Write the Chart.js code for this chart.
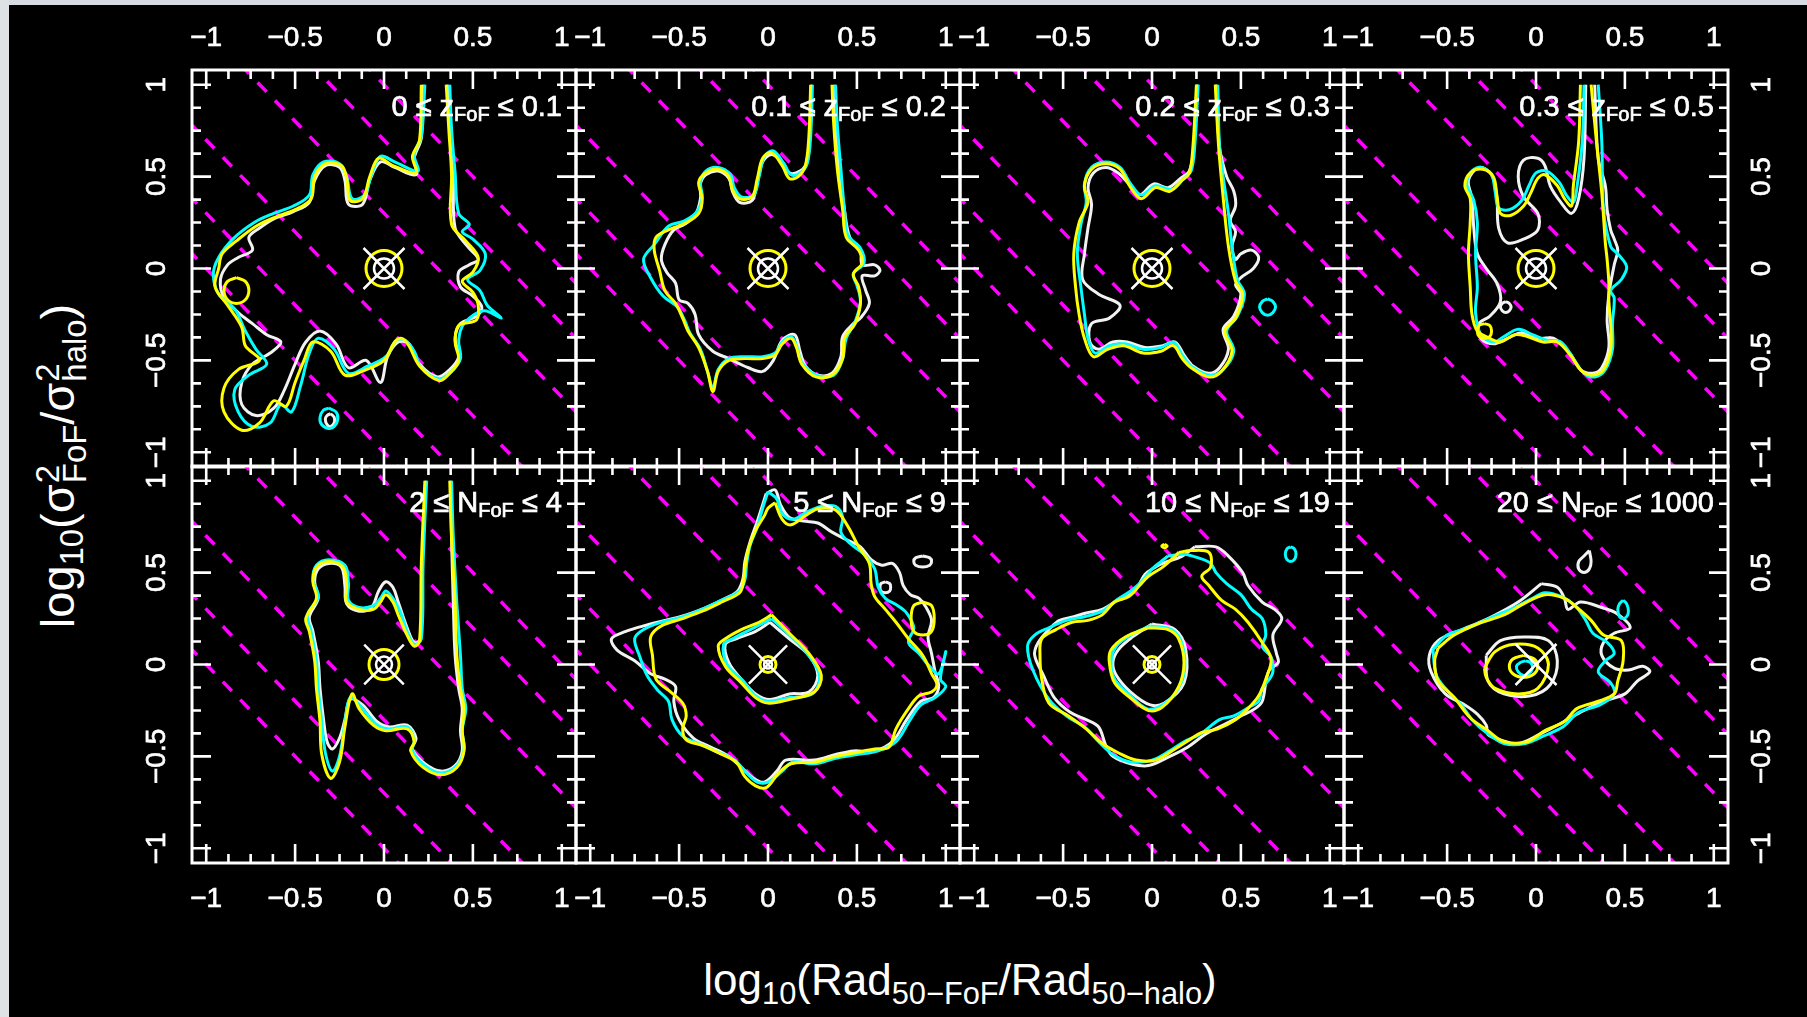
<!DOCTYPE html>
<html>
<head>
<meta charset="utf-8">
<script src="https://cdn.jsdelivr.net/npm/chart.js@4.4.1/dist/chart.umd.min.js"></script>
<style>
html, body { margin: 0; padding: 0; background: #000; }
body { width: 1807px; height: 1017px; position: relative; overflow: hidden; color: #fff;
       font-family: "Liberation Sans", Arial, Helvetica, sans-serif; }
.strip-top { position: absolute; left: 0; top: 0; width: 1807px; height: 5px; background: #d6dce1; }
.strip-left { position: absolute; left: 0; top: 0; width: 9px; height: 1017px; background: #dfe2e5; }
.panel { position: absolute; }
.title { position: absolute; white-space: nowrap; font-size: 44px; line-height: 50px; }
#xtitle { left: 460px; width: 1000px; top: 955px; text-align: center; }
#ytitle { left: 60px; top: 466px; font-size: 47px; transform: translate(-50%, -50%) rotate(-90deg); }
.title sub { font-size: 0.7em; vertical-align: -0.3em; line-height: 0; }
.ss { display: inline-flex; flex-direction: column; font-size: 0.7em; line-height: 0.8;
      vertical-align: 0.45em; text-align: left; margin-left: 1px; }
</style>
</head>
<body>
<div class="strip-top"></div>
<div class="strip-left"></div>
<div class="title" id="xtitle">log<sub>10</sub>(Rad<sub>50−FoF</sub>/Rad<sub>50−halo</sub>)</div>
<div class="title" id="ytitle">log<sub>10</sub>(σ<span class="ss"><span>2</span><span>FoF</span></span>/σ<span class="ss"><span>2</span><span>halo</span></span>)</div>
<script>
// axis setup (R style: range extended 4%)
const AX_MIN = -1.08, AX_MAX = 1.08;
const tickMarks = [-1, -0.875, -0.75, -0.625, -0.5, -0.375, -0.25, -0.125, 0,
                   0.125, 0.25, 0.375, 0.5, 0.625, 0.75, 0.875, 1];
const tickLabelValues = [-1, -0.5, 0, 0.5, 1];
const tickLabelText = ['\u22121', '\u22120.5', '0', '0.5', '1'];

// constant mass ratio lines: log10(sigma^2) + log10(R) = c
const massLines = [-1, -0.699, -0.301, 0.301, 0.699, 1];
const centre = [[0, 0]];

// panel labels
const labelLow = ['0', '0.1', '0.2', '0.3', '2', '5', '10', '20'];
const labelVar = ['z', 'z', 'z', 'z', 'N', 'N', 'N', 'N'];
const labelHigh = ['0.1', '0.2', '0.3', '0.5', '4', '9', '19', '1000'];
const markerOuter = [18, 18, 18, 18, 15, 8, 8, 0];
const markerInner = [10, 10, 10, 10, 8, 4, 4, 0];
const markerCross = [29, 29, 29, 29, 28, 27, 27, 29];

// ---- panel 1: 0 <= z <= 0.1
const p1Y = [[0.21,1.0],[0.20,0.70],[0.16,0.61],[0.18,0.52],[0.05,0.56],[-0.03,0.60],[-0.08,0.50],[-0.12,0.38],[-0.19,0.37],[-0.21,0.49],[-0.24,0.56],[-0.33,0.57],[-0.39,0.50],[-0.41,0.38],[-0.50,0.32],[-0.61,0.28],[-0.72,0.23],[-0.83,0.15],[-0.91,0.08],[-0.93,0.0],[-0.95,-0.10],[-0.88,-0.20],[-0.80,-0.32],[-0.78,-0.42],[-0.70,-0.50],[-0.82,-0.55],[-0.90,-0.65],[-0.90,-0.78],[-0.80,-0.88],[-0.70,-0.84],[-0.62,-0.72],[-0.55,-0.75],[-0.50,-0.62],[-0.45,-0.50],[-0.40,-0.40],[-0.30,-0.45],[-0.22,-0.58],[-0.10,-0.55],[0.0,-0.50],[0.06,-0.40],[0.10,-0.38],[0.14,-0.42],[0.20,-0.53],[0.31,-0.61],[0.37,-0.57],[0.42,-0.50],[0.40,-0.40],[0.42,-0.31],[0.52,-0.28],[0.53,-0.20],[0.50,-0.13],[0.44,-0.07],[0.50,-0.02],[0.53,0.06],[0.46,0.15],[0.38,0.24],[0.38,0.51],[0.365,0.75],[0.35,1.0]];
const p1Yi = [[-0.83,-0.05],[-0.78,-0.07],[-0.76,-0.12],[-0.78,-0.17],[-0.83,-0.19],[-0.88,-0.17],[-0.90,-0.12],[-0.88,-0.07],[-0.83,-0.05]];
const p1C = [[0.23,1.0],[0.21,0.72],[0.17,0.62],[0.19,0.53],[0.06,0.58],[-0.02,0.61],[-0.07,0.51],[-0.11,0.40],[-0.18,0.38],[-0.21,0.50],[-0.25,0.57],[-0.34,0.58],[-0.40,0.51],[-0.42,0.40],[-0.51,0.34],[-0.62,0.30],[-0.73,0.25],[-0.85,0.16],[-0.93,0.06],[-0.96,-0.03],[-0.93,-0.14],[-0.84,-0.22],[-0.78,-0.34],[-0.72,-0.44],[-0.66,-0.52],[-0.76,-0.58],[-0.84,-0.66],[-0.82,-0.78],[-0.74,-0.86],[-0.64,-0.84],[-0.58,-0.74],[-0.52,-0.78],[-0.47,-0.64],[-0.42,-0.46],[-0.37,-0.38],[-0.28,-0.44],[-0.20,-0.57],[-0.09,-0.53],[0.01,-0.48],[0.07,-0.39],[0.12,-0.39],[0.17,-0.45],[0.21,-0.54],[0.31,-0.60],[0.38,-0.56],[0.43,-0.49],[0.42,-0.39],[0.45,-0.30],[0.56,-0.23],[0.66,-0.27],[0.58,-0.20],[0.54,-0.12],[0.47,-0.06],[0.54,-0.01],[0.57,0.08],[0.50,0.16],[0.44,0.20],[0.48,0.24],[0.42,0.30],[0.40,0.52],[0.38,0.76],[0.37,1.0]];
const p1Ci = [[-0.31,-0.76],[-0.27,-0.78],[-0.26,-0.82],[-0.28,-0.86],[-0.31,-0.87],[-0.35,-0.85],[-0.36,-0.81],[-0.34,-0.77],[-0.31,-0.76]];
const p1W = [[0.22,1.0],[0.21,0.71],[0.17,0.60],[0.18,0.51],[0.06,0.55],[-0.02,0.58],[-0.08,0.48],[-0.12,0.35],[-0.20,0.35],[-0.22,0.48],[-0.25,0.55],[-0.33,0.56],[-0.39,0.48],[-0.42,0.36],[-0.51,0.31],[-0.62,0.27],[-0.70,0.22],[-0.76,0.17],[-0.74,0.10],[-0.82,0.06],[-0.88,0.02],[-0.92,-0.06],[-0.90,-0.16],[-0.82,-0.24],[-0.74,-0.30],[-0.66,-0.36],[-0.58,-0.40],[-0.64,-0.46],[-0.74,-0.52],[-0.80,-0.62],[-0.80,-0.74],[-0.72,-0.80],[-0.62,-0.76],[-0.56,-0.66],[-0.50,-0.52],[-0.44,-0.40],[-0.36,-0.34],[-0.27,-0.41],[-0.20,-0.54],[-0.10,-0.50],[-0.02,-0.62],[0.02,-0.48],[0.08,-0.40],[0.14,-0.41],[0.20,-0.52],[0.30,-0.59],[0.37,-0.55],[0.42,-0.48],[0.40,-0.38],[0.43,-0.30],[0.52,-0.26],[0.55,-0.21],[0.50,-0.15],[0.43,-0.10],[0.42,-0.02],[0.48,0.02],[0.53,0.05],[0.47,0.12],[0.40,0.22],[0.39,0.50],[0.37,0.75],[0.36,1.0]];
const p1Wi = [[-0.30,-0.79],[-0.28,-0.81],[-0.28,-0.84],[-0.30,-0.86],[-0.32,-0.85],[-0.33,-0.82],[-0.32,-0.80],[-0.30,-0.79]];

// ---- panel 2: 0.1 <= z <= 0.2
const p2Y = [[0.24,1.0],[0.23,0.72],[0.21,0.56],[0.17,0.50],[0.12,0.49],[0.08,0.56],[0.02,0.63],[-0.03,0.60],[-0.06,0.49],[-0.09,0.39],[-0.16,0.38],[-0.20,0.43],[-0.22,0.50],[-0.28,0.54],[-0.35,0.52],[-0.39,0.47],[-0.37,0.38],[-0.39,0.30],[-0.46,0.25],[-0.56,0.21],[-0.63,0.17],[-0.64,0.10],[-0.61,-0.01],[-0.58,-0.12],[-0.52,-0.19],[-0.48,-0.27],[-0.45,-0.34],[-0.39,-0.43],[-0.34,-0.56],[-0.31,-0.67],[-0.28,-0.56],[-0.22,-0.50],[-0.13,-0.49],[-0.03,-0.49],[0.04,-0.47],[0.08,-0.41],[0.13,-0.38],[0.16,-0.43],[0.19,-0.52],[0.27,-0.59],[0.36,-0.58],[0.42,-0.49],[0.43,-0.38],[0.49,-0.30],[0.52,-0.19],[0.51,-0.10],[0.48,-0.03],[0.53,0.03],[0.51,0.10],[0.44,0.17],[0.42,0.32],[0.39,0.54],[0.37,0.78],[0.36,1.0]];
const p2C = [[0.25,1.0],[0.24,0.72],[0.22,0.57],[0.18,0.52],[0.13,0.51],[0.09,0.57],[0.03,0.64],[-0.02,0.61],[-0.05,0.50],[-0.08,0.40],[-0.15,0.39],[-0.19,0.44],[-0.21,0.51],[-0.28,0.55],[-0.35,0.53],[-0.38,0.47],[-0.37,0.39],[-0.40,0.31],[-0.47,0.26],[-0.56,0.23],[-0.64,0.13],[-0.70,0.05],[-0.66,-0.05],[-0.59,-0.15],[-0.51,-0.21],[-0.47,-0.28],[-0.44,-0.35],[-0.38,-0.44],[-0.34,-0.56],[-0.31,-0.65],[-0.28,-0.55],[-0.22,-0.49],[-0.13,-0.48],[-0.03,-0.48],[0.04,-0.46],[0.08,-0.40],[0.13,-0.37],[0.16,-0.42],[0.19,-0.51],[0.27,-0.58],[0.37,-0.58],[0.42,-0.49],[0.44,-0.38],[0.49,-0.29],[0.52,-0.18],[0.50,-0.09],[0.48,-0.03],[0.54,0.03],[0.52,0.11],[0.45,0.18],[0.43,0.32],[0.41,0.54],[0.39,0.78],[0.38,1.0]];
const p2W = [[0.245,1.0],[0.235,0.72],[0.22,0.58],[0.18,0.53],[0.12,0.52],[0.08,0.58],[0.02,0.62],[-0.03,0.58],[-0.06,0.47],[-0.09,0.37],[-0.16,0.36],[-0.20,0.42],[-0.22,0.49],[-0.28,0.53],[-0.35,0.51],[-0.38,0.46],[-0.38,0.38],[-0.41,0.29],[-0.47,0.24],[-0.53,0.21],[-0.58,0.13],[-0.60,0.05],[-0.57,-0.02],[-0.52,-0.08],[-0.50,-0.17],[-0.45,-0.19],[-0.41,-0.25],[-0.39,-0.36],[-0.31,-0.45],[-0.22,-0.49],[-0.11,-0.54],[-0.03,-0.56],[0.03,-0.50],[0.08,-0.39],[0.15,-0.36],[0.18,-0.45],[0.21,-0.53],[0.28,-0.58],[0.36,-0.57],[0.41,-0.48],[0.42,-0.37],[0.48,-0.30],[0.52,-0.27],[0.57,-0.19],[0.55,-0.12],[0.53,-0.04],[0.60,-0.04],[0.63,-0.01],[0.60,0.02],[0.53,0.02],[0.52,0.10],[0.46,0.17],[0.43,0.32],[0.40,0.54],[0.38,0.78],[0.375,1.0]];

// ---- panel 3: 0.2 <= z <= 0.3
const p3Y = [[0.25,1.0],[0.23,0.66],[0.21,0.52],[0.17,0.48],[0.10,0.42],[0.02,0.44],[-0.06,0.38],[-0.12,0.44],[-0.18,0.54],[-0.26,0.57],[-0.34,0.54],[-0.38,0.45],[-0.36,0.36],[-0.41,0.25],[-0.44,0.08],[-0.43,-0.10],[-0.41,-0.25],[-0.38,-0.38],[-0.33,-0.48],[-0.25,-0.44],[-0.16,-0.42],[-0.05,-0.46],[0.05,-0.45],[0.12,-0.42],[0.17,-0.49],[0.22,-0.54],[0.32,-0.59],[0.39,-0.56],[0.45,-0.45],[0.41,-0.34],[0.47,-0.27],[0.51,-0.14],[0.47,-0.07],[0.43,0.12],[0.40,0.39],[0.375,0.66],[0.356,1.0]];
const p3C = [[0.26,1.0],[0.24,0.66],[0.22,0.53],[0.18,0.49],[0.11,0.43],[0.02,0.45],[-0.06,0.40],[-0.12,0.46],[-0.18,0.55],[-0.26,0.58],[-0.34,0.55],[-0.38,0.46],[-0.37,0.36],[-0.40,0.24],[-0.42,0.08],[-0.40,-0.10],[-0.38,-0.25],[-0.36,-0.38],[-0.32,-0.46],[-0.24,-0.42],[-0.15,-0.41],[-0.05,-0.44],[0.05,-0.43],[0.12,-0.40],[0.17,-0.47],[0.22,-0.53],[0.32,-0.58],[0.40,-0.55],[0.46,-0.45],[0.42,-0.34],[0.48,-0.26],[0.52,-0.14],[0.48,-0.06],[0.45,0.12],[0.43,0.30],[0.40,0.50],[0.38,0.66],[0.37,1.0]];
const p3Ci = [[0.65,-0.165],[0.68,-0.18],[0.695,-0.21],[0.68,-0.24],[0.65,-0.255],[0.62,-0.24],[0.605,-0.21],[0.62,-0.18],[0.65,-0.165]];
const p3W = [[0.255,1.0],[0.235,0.66],[0.21,0.53],[0.16,0.49],[0.09,0.44],[0.01,0.46],[-0.07,0.40],[-0.13,0.46],[-0.19,0.52],[-0.26,0.55],[-0.33,0.52],[-0.36,0.44],[-0.34,0.35],[-0.36,0.22],[-0.38,0.08],[-0.39,-0.06],[-0.30,-0.14],[-0.18,-0.20],[-0.24,-0.27],[-0.34,-0.30],[-0.35,-0.40],[-0.30,-0.44],[-0.22,-0.40],[-0.14,-0.40],[-0.04,-0.43],[0.06,-0.42],[0.13,-0.40],[0.18,-0.47],[0.23,-0.53],[0.32,-0.57],[0.38,-0.54],[0.43,-0.44],[0.40,-0.33],[0.46,-0.26],[0.50,-0.14],[0.47,-0.09],[0.50,-0.05],[0.57,0.0],[0.60,0.06],[0.56,0.10],[0.50,0.08],[0.47,0.05],[0.45,0.12],[0.47,0.20],[0.44,0.26],[0.47,0.34],[0.46,0.42],[0.42,0.50],[0.38,0.66],[0.36,1.0]];

// ---- panel 4: 0.3 <= z <= 0.5
const p4Y = [[0.25,1.0],[0.24,0.69],[0.21,0.45],[0.20,0.34],[0.16,0.38],[0.12,0.45],[0.05,0.51],[0.01,0.49],[-0.03,0.41],[-0.07,0.34],[-0.14,0.29],[-0.20,0.30],[-0.22,0.40],[-0.24,0.50],[-0.30,0.54],[-0.37,0.52],[-0.40,0.45],[-0.37,0.38],[-0.37,0.25],[-0.38,0.08],[-0.37,-0.10],[-0.36,-0.25],[-0.33,-0.34],[-0.26,-0.38],[-0.20,-0.40],[-0.12,-0.36],[-0.05,-0.37],[0.04,-0.40],[0.12,-0.40],[0.20,-0.48],[0.26,-0.56],[0.32,-0.58],[0.38,-0.55],[0.42,-0.44],[0.42,-0.30],[0.41,-0.18],[0.41,-0.08],[0.40,0.05],[0.39,0.14],[0.37,0.41],[0.34,0.69],[0.31,1.0]];
const p4Yi = [[-0.29,-0.30],[-0.26,-0.31],[-0.25,-0.34],[-0.26,-0.37],[-0.29,-0.38],[-0.32,-0.37],[-0.33,-0.34],[-0.32,-0.31],[-0.29,-0.30]];
const p4C = [[0.27,1.0],[0.26,0.69],[0.23,0.44],[0.21,0.36],[0.17,0.40],[0.13,0.47],[0.06,0.53],[0.00,0.52],[-0.04,0.45],[-0.08,0.37],[-0.15,0.32],[-0.21,0.33],[-0.23,0.42],[-0.25,0.51],[-0.31,0.55],[-0.36,0.53],[-0.39,0.46],[-0.35,0.37],[-0.33,0.25],[-0.34,0.08],[-0.33,-0.10],[-0.34,-0.24],[-0.31,-0.36],[-0.24,-0.40],[-0.18,-0.37],[-0.10,-0.33],[-0.02,-0.36],[0.06,-0.39],[0.14,-0.40],[0.21,-0.49],[0.27,-0.57],[0.33,-0.59],[0.39,-0.55],[0.43,-0.44],[0.43,-0.30],[0.44,-0.16],[0.42,-0.12],[0.48,-0.06],[0.51,0.01],[0.46,0.08],[0.42,0.12],[0.38,0.32],[0.37,0.69],[0.35,1.0]];
const p4W = [[0.28,1.0],[0.27,0.60],[0.24,0.38],[0.20,0.30],[0.14,0.36],[0.08,0.45],[0.05,0.56],[0.01,0.60],[-0.07,0.59],[-0.10,0.50],[-0.07,0.39],[0.01,0.30],[0.01,0.21],[-0.07,0.16],[-0.16,0.14],[-0.21,0.22],[-0.22,0.38],[-0.25,0.51],[-0.32,0.55],[-0.38,0.48],[-0.36,0.38],[-0.35,0.22],[-0.33,0.08],[-0.28,0.0],[-0.22,-0.08],[-0.20,-0.18],[-0.26,-0.26],[-0.32,-0.30],[-0.31,-0.38],[-0.24,-0.41],[-0.16,-0.38],[-0.08,-0.35],[0.02,-0.38],[0.10,-0.38],[0.19,-0.46],[0.25,-0.55],[0.32,-0.57],[0.37,-0.54],[0.41,-0.43],[0.40,-0.28],[0.41,-0.14],[0.44,0.02],[0.46,0.10],[0.44,0.16],[0.42,0.21],[0.40,0.32],[0.39,0.45],[0.35,0.60],[0.33,1.0]];
const p4Wi = [[-0.17,-0.18],[-0.15,-0.19],[-0.14,-0.21],[-0.15,-0.23],[-0.17,-0.24],[-0.19,-0.23],[-0.20,-0.21],[-0.19,-0.19],[-0.17,-0.18]];

// ---- panel 5: 2 <= N <= 4
const p5Y = [[0.23,1.0],[0.21,0.55],[0.20,0.13],[0.17,0.10],[0.13,0.16],[0.08,0.27],[0.05,0.34],[0.01,0.38],[-0.02,0.34],[-0.06,0.30],[-0.14,0.30],[-0.21,0.34],[-0.21,0.43],[-0.23,0.53],[-0.31,0.56],[-0.38,0.53],[-0.40,0.45],[-0.38,0.36],[-0.44,0.25],[-0.42,0.18],[-0.39,0.02],[-0.38,-0.13],[-0.36,-0.31],[-0.35,-0.49],[-0.30,-0.62],[-0.25,-0.53],[-0.22,-0.34],[-0.18,-0.16],[-0.14,-0.24],[-0.06,-0.33],[0.01,-0.36],[0.13,-0.35],[0.17,-0.42],[0.15,-0.47],[0.22,-0.56],[0.32,-0.60],[0.41,-0.56],[0.45,-0.47],[0.44,-0.36],[0.45,-0.24],[0.43,-0.13],[0.41,0.05],[0.40,0.33],[0.38,0.69],[0.37,1.0]];
const p5C = [[0.24,1.0],[0.22,0.55],[0.21,0.14],[0.17,0.11],[0.13,0.18],[0.09,0.29],[0.05,0.36],[0.01,0.40],[-0.02,0.36],[-0.06,0.32],[-0.14,0.31],[-0.20,0.35],[-0.20,0.44],[-0.22,0.54],[-0.31,0.57],[-0.38,0.54],[-0.40,0.46],[-0.37,0.37],[-0.43,0.27],[-0.41,0.18],[-0.38,0.02],[-0.37,-0.13],[-0.35,-0.31],[-0.33,-0.48],[-0.29,-0.58],[-0.25,-0.50],[-0.22,-0.32],[-0.19,-0.18],[-0.13,-0.23],[-0.05,-0.32],[0.02,-0.35],[0.13,-0.34],[0.17,-0.41],[0.16,-0.47],[0.23,-0.55],[0.32,-0.59],[0.41,-0.55],[0.45,-0.46],[0.44,-0.36],[0.46,-0.24],[0.44,-0.13],[0.43,0.05],[0.41,0.33],[0.39,0.69],[0.38,1.0]];
const p5W = [[0.235,1.0],[0.215,0.55],[0.205,0.14],[0.17,0.12],[0.13,0.20],[0.08,0.34],[0.05,0.42],[0.01,0.45],[-0.03,0.40],[-0.07,0.31],[-0.14,0.29],[-0.21,0.33],[-0.22,0.43],[-0.24,0.53],[-0.31,0.55],[-0.37,0.52],[-0.39,0.45],[-0.37,0.36],[-0.42,0.26],[-0.40,0.18],[-0.37,0.02],[-0.36,-0.13],[-0.34,-0.30],[-0.32,-0.42],[-0.29,-0.46],[-0.25,-0.40],[-0.22,-0.30],[-0.19,-0.19],[-0.12,-0.22],[-0.04,-0.31],[0.03,-0.34],[0.13,-0.33],[0.18,-0.40],[0.16,-0.46],[0.23,-0.54],[0.32,-0.58],[0.40,-0.55],[0.44,-0.47],[0.43,-0.36],[0.44,-0.24],[0.42,-0.13],[0.40,0.05],[0.39,0.33],[0.38,0.69],[0.375,1.0]];

// ---- panel 6: 5 <= N <= 9
const p6Y = [[0.04,0.88],[0.08,0.79],[0.13,0.76],[0.21,0.81],[0.29,0.85],[0.38,0.84],[0.45,0.75],[0.51,0.64],[0.57,0.55],[0.58,0.44],[0.60,0.37],[0.66,0.30],[0.72,0.23],[0.79,0.14],[0.87,0.05],[0.92,-0.05],[0.95,-0.11],[0.92,-0.15],[0.85,-0.17],[0.79,-0.24],[0.72,-0.35],[0.68,-0.45],[0.60,-0.46],[0.49,-0.48],[0.38,-0.50],[0.27,-0.53],[0.13,-0.54],[0.06,-0.59],[-0.01,-0.67],[-0.07,-0.66],[-0.13,-0.61],[-0.18,-0.53],[-0.28,-0.48],[-0.37,-0.44],[-0.46,-0.41],[-0.48,-0.35],[-0.46,-0.28],[-0.48,-0.21],[-0.56,-0.14],[-0.63,-0.08],[-0.65,0.05],[-0.66,0.15],[-0.60,0.21],[-0.48,0.25],[-0.37,0.29],[-0.26,0.34],[-0.16,0.39],[-0.14,0.44],[-0.13,0.52],[-0.11,0.63],[-0.07,0.73],[-0.02,0.81],[0.00,0.85],[0.04,0.88]];
const p6Yi = [[0.87,0.34],[0.92,0.32],[0.935,0.25],[0.92,0.18],[0.87,0.16],[0.82,0.18],[0.805,0.25],[0.82,0.32],[0.87,0.34]];
const p6Yin = [[0.02,0.27],[0.12,0.17],[0.23,0.06],[0.30,-0.06],[0.26,-0.15],[0.12,-0.19],[0.00,-0.21],[-0.07,-0.18],[-0.15,-0.10],[-0.24,-0.01],[-0.28,0.10],[-0.24,0.14],[-0.15,0.19],[-0.05,0.23],[0.02,0.27]];
const p6C = [[0.00,0.94],[0.05,0.90],[0.08,0.82],[0.14,0.79],[0.22,0.83],[0.30,0.86],[0.38,0.86],[0.42,0.80],[0.41,0.72],[0.46,0.66],[0.54,0.60],[0.60,0.52],[0.62,0.42],[0.66,0.36],[0.73,0.32],[0.78,0.28],[0.82,0.20],[0.79,0.12],[0.85,0.06],[0.90,0.00],[0.96,-0.05],[1.00,0.07],[0.97,-0.08],[1.00,-0.12],[0.94,-0.18],[0.86,-0.22],[0.80,-0.30],[0.72,-0.42],[0.62,-0.47],[0.50,-0.49],[0.38,-0.51],[0.26,-0.54],[0.14,-0.53],[0.08,-0.58],[0.00,-0.64],[-0.06,-0.64],[-0.12,-0.59],[-0.19,-0.52],[-0.30,-0.47],[-0.39,-0.43],[-0.48,-0.39],[-0.54,-0.30],[-0.56,-0.20],[-0.62,-0.14],[-0.68,-0.06],[-0.72,0.04],[-0.75,0.14],[-0.70,0.19],[-0.60,0.23],[-0.48,0.26],[-0.37,0.30],[-0.26,0.35],[-0.16,0.40],[-0.13,0.46],[-0.12,0.55],[-0.10,0.65],[-0.06,0.75],[-0.03,0.85],[0.00,0.94]];
const p6Cin = [[0.02,0.25],[0.12,0.16],[0.22,0.06],[0.29,-0.06],[0.25,-0.16],[0.12,-0.18],[0.00,-0.20],[-0.07,-0.17],[-0.14,-0.09],[-0.23,0.0],[-0.25,0.11],[-0.20,0.14],[-0.10,0.19],[0.02,0.25]];
const p6W = [[-0.01,0.93],[0.04,0.95],[0.07,0.87],[0.12,0.80],[0.20,0.78],[0.28,0.77],[0.36,0.72],[0.44,0.68],[0.52,0.64],[0.58,0.57],[0.64,0.54],[0.70,0.55],[0.74,0.50],[0.76,0.43],[0.80,0.38],[0.85,0.36],[0.89,0.31],[0.92,0.24],[0.90,0.15],[0.92,0.06],[0.94,-0.04],[0.96,-0.12],[0.93,-0.18],[0.86,-0.20],[0.78,-0.30],[0.70,-0.42],[0.60,-0.47],[0.48,-0.47],[0.38,-0.49],[0.26,-0.52],[0.10,-0.52],[0.05,-0.58],[-0.02,-0.64],[-0.08,-0.62],[-0.15,-0.56],[-0.22,-0.50],[-0.32,-0.45],[-0.42,-0.40],[-0.50,-0.30],[-0.53,-0.20],[-0.52,-0.12],[-0.58,-0.08],[-0.66,-0.05],[-0.75,0.02],[-0.85,0.08],[-0.88,0.14],[-0.80,0.18],[-0.70,0.21],[-0.58,0.24],[-0.46,0.27],[-0.35,0.31],[-0.24,0.36],[-0.17,0.40],[-0.14,0.47],[-0.13,0.56],[-0.10,0.67],[-0.06,0.78],[-0.03,0.87],[-0.01,0.93]];
const p6Wi = [[0.87,0.59],[0.91,0.58],[0.92,0.56],[0.91,0.54],[0.87,0.53],[0.83,0.54],[0.82,0.56],[0.83,0.58],[0.87,0.59]];
const p6Wj = [[0.66,0.45],[0.685,0.44],[0.69,0.42],[0.685,0.40],[0.66,0.39],[0.635,0.40],[0.63,0.42],[0.635,0.44],[0.66,0.45]];
const p6Win = [[0.01,0.23],[0.12,0.14],[0.23,0.05],[0.28,-0.06],[0.23,-0.15],[0.12,-0.16],[0.01,-0.19],[-0.07,-0.16],[-0.15,-0.08],[-0.22,0.01],[-0.24,0.11],[-0.18,0.14],[-0.07,0.18],[0.01,0.23]];

// ---- panel 7: 10 <= N <= 19
const p7Y = [[0.15,0.61],[0.22,0.62],[0.32,0.61],[0.33,0.53],[0.28,0.48],[0.32,0.43],[0.39,0.35],[0.47,0.30],[0.54,0.23],[0.62,0.12],[0.67,0.03],[0.64,-0.08],[0.60,-0.17],[0.54,-0.24],[0.47,-0.30],[0.37,-0.35],[0.28,-0.37],[0.21,-0.41],[0.13,-0.46],[0.02,-0.52],[-0.09,-0.52],[-0.19,-0.48],[-0.28,-0.43],[-0.37,-0.35],[-0.47,-0.28],[-0.58,-0.21],[-0.62,-0.08],[-0.63,0.05],[-0.62,0.14],[-0.54,0.19],[-0.45,0.23],[-0.36,0.24],[-0.28,0.27],[-0.21,0.34],[-0.13,0.37],[-0.07,0.43],[-0.02,0.48],[0.06,0.53],[0.13,0.59],[0.15,0.61]];
const p7Yi = [[0.07,0.655],[0.085,0.645],[0.07,0.635],[0.055,0.645],[0.07,0.655]];
const p7Yin = [[-0.02,0.20],[0.09,0.19],[0.15,0.14],[0.18,0.01],[0.15,-0.12],[0.06,-0.23],[-0.02,-0.25],[-0.11,-0.19],[-0.21,-0.10],[-0.24,0.01],[-0.23,0.08],[-0.15,0.15],[-0.02,0.20]];
const p7C = [[0.09,0.59],[0.18,0.60],[0.26,0.58],[0.33,0.55],[0.36,0.50],[0.42,0.44],[0.50,0.38],[0.56,0.30],[0.62,0.25],[0.64,0.16],[0.62,0.10],[0.67,0.04],[0.68,-0.04],[0.66,-0.08],[0.62,-0.13],[0.60,-0.20],[0.55,-0.23],[0.46,-0.28],[0.38,-0.30],[0.27,-0.38],[0.18,-0.42],[0.10,-0.47],[0.00,-0.52],[-0.12,-0.53],[-0.22,-0.49],[-0.30,-0.42],[-0.38,-0.34],[-0.48,-0.28],[-0.58,-0.19],[-0.67,-0.03],[-0.70,0.10],[-0.66,0.16],[-0.58,0.20],[-0.48,0.24],[-0.38,0.26],[-0.28,0.29],[-0.20,0.35],[-0.12,0.40],[-0.06,0.45],[0.00,0.52],[0.05,0.56],[0.09,0.59]];
const p7Ci = [[0.78,0.64],[0.80,0.63],[0.81,0.60],[0.80,0.57],[0.78,0.56],[0.76,0.57],[0.75,0.60],[0.76,0.63],[0.78,0.64]];
const p7Cin = [[-0.01,0.21],[0.11,0.19],[0.17,0.11],[0.18,-0.05],[0.12,-0.17],[0.04,-0.23],[-0.03,-0.24],[-0.12,-0.17],[-0.21,-0.08],[-0.23,0.02],[-0.20,0.10],[-0.12,0.16],[-0.01,0.21]];
const p7W = [[0.24,0.64],[0.36,0.64],[0.43,0.59],[0.51,0.50],[0.54,0.43],[0.62,0.34],[0.69,0.30],[0.73,0.25],[0.68,0.16],[0.70,0.06],[0.71,0.01],[0.66,-0.03],[0.64,-0.10],[0.62,-0.20],[0.58,-0.24],[0.50,-0.28],[0.40,-0.33],[0.30,-0.38],[0.20,-0.45],[0.10,-0.50],[-0.02,-0.55],[-0.12,-0.54],[-0.22,-0.50],[-0.26,-0.44],[-0.30,-0.34],[-0.37,-0.30],[-0.46,-0.26],[-0.55,-0.18],[-0.61,-0.06],[-0.66,0.05],[-0.64,0.12],[-0.57,0.20],[-0.52,0.24],[-0.44,0.26],[-0.37,0.28],[-0.28,0.30],[-0.18,0.36],[-0.09,0.41],[-0.04,0.49],[0.02,0.53],[0.06,0.55],[0.17,0.59],[0.24,0.64]];
const p7Win = [[0.00,0.22],[0.13,0.19],[0.19,0.08],[0.18,-0.10],[0.07,-0.21],[-0.01,-0.22],[-0.12,-0.15],[-0.20,-0.06],[-0.22,0.01],[-0.19,0.08],[-0.11,0.15],[0.00,0.22]];

// ---- panel 8: 20 <= N <= 1000
const p8Y = [[-0.55,0.09],[-0.46,0.16],[-0.33,0.22],[-0.18,0.27],[-0.07,0.33],[0.05,0.38],[0.16,0.36],[0.23,0.31],[0.31,0.24],[0.38,0.16],[0.48,0.13],[0.49,0.02],[0.46,-0.09],[0.44,-0.16],[0.35,-0.20],[0.23,-0.24],[0.16,-0.31],[0.05,-0.36],[-0.05,-0.42],[-0.18,-0.42],[-0.27,-0.36],[-0.37,-0.29],[-0.46,-0.18],[-0.55,-0.09],[-0.57,0.02],[-0.55,0.09]];
const p8Yin = [[-0.29,-0.02],[-0.23,0.07],[-0.12,0.11],[0.01,0.09],[0.07,0.00],[0.01,-0.13],[-0.10,-0.16],[-0.23,-0.13],[-0.28,-0.07],[-0.29,-0.02]];
const p8Yc = [[-0.07,0.05],[-0.01,0.03],[0.01,-0.01],[-0.01,-0.05],[-0.07,-0.07],[-0.13,-0.05],[-0.15,-0.01],[-0.13,0.03],[-0.07,0.05]];
const p8C = [[-0.58,0.08],[-0.50,0.16],[-0.38,0.20],[-0.24,0.26],[-0.12,0.31],[-0.02,0.36],[0.05,0.39],[0.14,0.37],[0.22,0.32],[0.28,0.24],[0.32,0.17],[0.40,0.12],[0.44,0.06],[0.39,0.02],[0.35,-0.04],[0.42,-0.10],[0.44,-0.16],[0.36,-0.22],[0.24,-0.26],[0.15,-0.34],[0.04,-0.39],[-0.06,-0.43],[-0.18,-0.43],[-0.28,-0.37],[-0.36,-0.30],[-0.42,-0.22],[-0.50,-0.14],[-0.56,-0.06],[-0.58,0.08]];
const p8Ci = [[0.49,0.35],[0.51,0.33],[0.52,0.29],[0.51,0.26],[0.49,0.25],[0.47,0.26],[0.46,0.30],[0.47,0.33],[0.49,0.35]];
const p8Cc = [[-0.06,0.02],[-0.03,0.01],[-0.02,-0.02],[-0.04,-0.05],[-0.07,-0.06],[-0.10,-0.04],[-0.11,-0.01],[-0.09,0.01],[-0.06,0.02]];
const p8W = [[0.03,0.44],[0.12,0.42],[0.16,0.36],[0.18,0.30],[0.25,0.34],[0.37,0.31],[0.45,0.28],[0.53,0.20],[0.44,0.17],[0.38,0.12],[0.37,0.05],[0.44,-0.02],[0.52,-0.03],[0.60,-0.01],[0.64,-0.04],[0.57,-0.09],[0.50,-0.16],[0.38,-0.20],[0.27,-0.25],[0.14,-0.32],[0.02,-0.38],[-0.10,-0.43],[-0.20,-0.41],[-0.27,-0.38],[-0.28,-0.33],[-0.33,-0.27],[-0.40,-0.22],[-0.51,-0.16],[-0.59,-0.04],[-0.60,0.05],[-0.55,0.13],[-0.44,0.18],[-0.27,0.25],[-0.10,0.34],[0.03,0.44]];
const p8Wi = [[0.30,0.62],[0.31,0.56],[0.30,0.52],[0.27,0.50],[0.24,0.52],[0.24,0.56],[0.27,0.59],[0.30,0.62]];
const p8Win = [[-0.28,0.05],[-0.20,0.13],[-0.07,0.15],[0.07,0.13],[0.12,0.02],[0.08,-0.11],[-0.03,-0.17],[-0.18,-0.16],[-0.27,-0.09],[-0.28,0.05]];

const panelYellow = [[p1Y, p1Yi], [p2Y], [p3Y], [p4Y, p4Yi], [p5Y], [p6Y, p6Yi, p6Yin], [p7Y, p7Yi, p7Yin], [p8Y, p8Yin, p8Yc]];
const panelCyan = [[p1C, p1Ci], [p2C], [p3C, p3Ci], [p4C], [p5C], [p6C, p6Cin], [p7C, p7Ci, p7Cin], [p8C, p8Ci, p8Cc]];
const panelWhite = [[p1W, p1Wi], [p2W], [p3W], [p4W, p4Wi], [p5W], [p6W, p6Wi, p6Wj, p6Win], [p7W, p7Win], [p8W, p8Wi, p8Win]];

// page geometry
const PANEL_LEFT = 192, PANEL_TOP = 70, PANEL_W = 384, PANEL_H = 397, ROW_STEP = 396, M = 70;
const FONT = '"Liberation Sans", Arial, Helvetica, sans-serif';

// text with a faint outline, to match the heavier look of the original
function boldText(ctx, t, x, y) {
  ctx.fillText(t, x, y);
  ctx.strokeText(t, x, y);
}

const framePlugin = {
  id: 'frame',
  afterDraw(chart, args, opts) {
    const ctx = chart.ctx, a = chart.chartArea;
    const xs = chart.scales.x, ys = chart.scales.y;
    const p = opts.index, col = p % 4, row = Math.floor(p / 4);
    ctx.save();
    ctx.strokeStyle = '#fff';
    ctx.lineWidth = 3;
    ctx.strokeRect(a.left, a.top, a.right - a.left, a.bottom - a.top);
    ctx.lineWidth = 2.6;
    ctx.beginPath();
    tickMarks.forEach(v => {
      const len = Number.isInteger(v * 2) ? 19 : 9;
      const px = xs.getPixelForValue(v), py = ys.getPixelForValue(v);
      ctx.moveTo(px, a.bottom); ctx.lineTo(px, a.bottom - len);
      ctx.moveTo(px, a.top); ctx.lineTo(px, a.top + len);
      ctx.moveTo(a.left, py); ctx.lineTo(a.left + len, py);
      ctx.moveTo(a.right, py); ctx.lineTo(a.right - len, py);
    });
    ctx.stroke();

    // tick labels on the outer sides only
    ctx.fillStyle = '#fff';
    ctx.lineWidth = 0.7;
    ctx.font = '28px ' + FONT;
    ctx.textAlign = 'center';
    ctx.textBaseline = 'middle';
    tickLabelValues.forEach((v, i) => {
      const t = tickLabelText[i];
      if (row === 0) boldText(ctx, t, xs.getPixelForValue(v), a.top - 32);
      if (row === 1) boldText(ctx, t, xs.getPixelForValue(v), a.bottom + 36);
      if (col === 0 || col === 3) {
        const lx = col === 0 ? a.left - 35 : a.right + 34;
        ctx.save();
        ctx.translate(lx, ys.getPixelForValue(v));
        ctx.rotate(-Math.PI / 2);
        boldText(ctx, t, 0, 0);
        ctx.restore();
      }
    });

    // panel label, right aligned, with subscript
    const main = '29px ' + FONT, small = '20px ' + FONT;
    const head = labelLow[p] + ' \u2264 ' + labelVar[p];
    const tail = ' \u2264 ' + labelHigh[p];
    ctx.textAlign = 'left';
    ctx.textBaseline = 'alphabetic';
    ctx.font = main;
    const wHead = ctx.measureText(head).width, wTail = ctx.measureText(tail).width;
    ctx.font = small;
    const wSub = ctx.measureText('FoF').width;
    const base = a.top + 46;
    const x0 = a.right - 14 - wTail - wSub - wHead;
    ctx.font = main;
    boldText(ctx, head, x0, base);
    ctx.font = small;
    boldText(ctx, 'FoF', x0 + wHead, base + 5);
    ctx.font = main;
    boldText(ctx, tail, x0 + wHead + wSub, base);
    ctx.restore();
  }
};

function curve(points, color) {
  return {
    data: points.map(([x, y]) => ({ x, y })),
    showLine: true, borderColor: color, borderWidth: 3,
    pointRadius: 0, tension: 0.35, fill: false
  };
}

for (let p = 0; p < 8; p++) {
  const col = p % 4, row = Math.floor(p / 4);
  const left = PANEL_LEFT + col * PANEL_W, top = PANEL_TOP + row * ROW_STEP;
  const box = document.createElement('div');
  box.className = 'panel';
  box.style.left = (left - M) + 'px';
  box.style.top = (top - M) + 'px';
  const cv = document.createElement('canvas');
  cv.width = PANEL_W + 2 * M;
  cv.height = PANEL_H + 2 * M;
  cv.style.width = cv.width + 'px';
  cv.style.height = cv.height + 'px';
  box.appendChild(cv);
  document.body.appendChild(box);

  const datasets = [];
  // centre marker (drawn on top)
  datasets.push({
    data: centre.map(([x, y]) => ({ x, y })), showLine: false,
    pointStyle: 'crossRot', pointRadius: markerCross[p], pointBorderColor: '#ffffff', pointBorderWidth: 2.5
  });
  if (markerOuter[p] > 0) {
    datasets.push({
      data: centre.map(([x, y]) => ({ x, y })), showLine: false,
      pointStyle: 'circle', pointRadius: markerInner[p], pointBorderColor: '#ffffff',
      pointBackgroundColor: 'rgba(0,0,0,0)', pointBorderWidth: 2.5
    });
    datasets.push({
      data: centre.map(([x, y]) => ({ x, y })), showLine: false,
      pointStyle: 'circle', pointRadius: markerOuter[p], pointBorderColor: '#ffff00',
      pointBackgroundColor: 'rgba(0,0,0,0)', pointBorderWidth: 3
    });
  }
  panelYellow[p].forEach(c => datasets.push(curve(c, '#ffff00')));
  panelCyan[p].forEach(c => datasets.push(curve(c, '#00ffff')));
  panelWhite[p].forEach(c => datasets.push(curve(c, '#f2f2f2')));
  massLines.forEach(c => datasets.push({
    data: [{ x: -1.2, y: c + 1.2 }, { x: 1.2, y: c - 1.2 }],
    showLine: true, borderColor: '#ff00ff', borderWidth: 3.5, borderDash: [13, 12],
    pointRadius: 0, tension: 0, fill: false
  }));

  new Chart(cv, {
    type: 'scatter',
    data: { datasets },
    options: {
      responsive: false,
      animation: false,
      events: [],
      layout: { padding: M },
      scales: {
        x: { type: 'linear', min: AX_MIN, max: AX_MAX, display: false },
        y: { type: 'linear', min: AX_MIN, max: AX_MAX, display: false }
      },
      plugins: {
        legend: { display: false },
        tooltip: { enabled: false },
        frame: { index: p }
      }
    },
    plugins: [framePlugin]
  });
}
</script>
</body>
</html>
